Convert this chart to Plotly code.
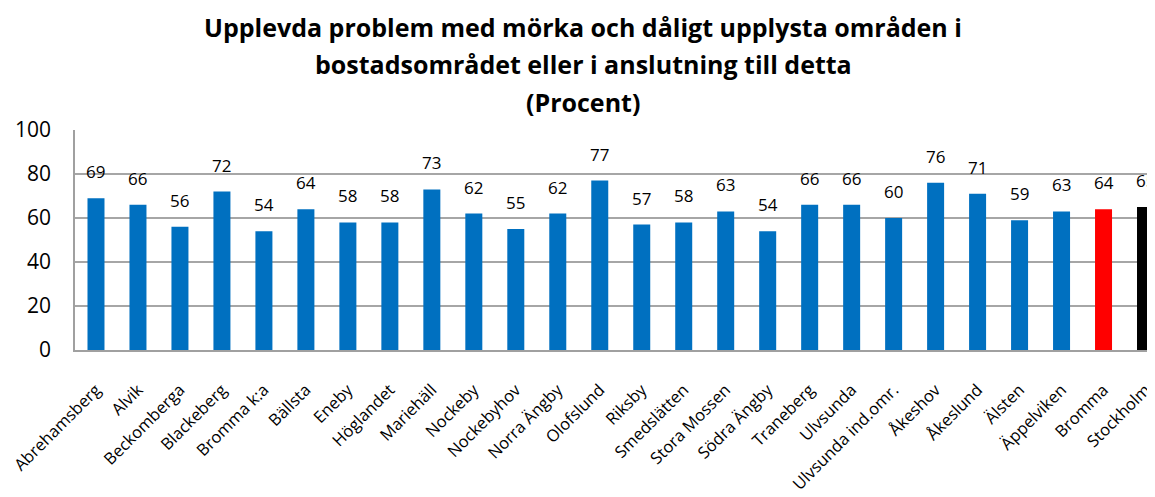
import plotly.graph_objects as go

categories = ["Abrehamsberg", "Alvik", "Beckomberga", "Blackeberg", "Bromma k:a", "Bällsta",
              "Eneby", "Höglandet", "Mariehäll", "Nockeby", "Nockebyhov", "Norra Ängby",
              "Olofslund", "Riksby", "Smedslätten", "Stora Mossen", "Södra Ängby", "Traneberg",
              "Ulvsunda", "Ulvsunda ind.omr.", "Åkeshov", "Åkeslund", "Älsten", "Äppelviken",
              "Bromma", "Stockholm"]
values = [69, 66, 56, 72, 54, 64, 58, 58, 73, 62, 55, 62, 77, 57, 58, 63, 54, 66, 66, 60,
          76, 71, 59, 63, 64, 65]
title_lines = ["Upplevda problem med mörka och dåligt upplysta områden i",
               "bostadsområdet eller i anslutning till detta",
               "(Procent)"]
y_ticks = [0, 20, 40, 60, 80, 100]

colors = ["#0070C0"] * (len(categories) - 2) + ["#FF0000", "#000000"]
FONT = "Open Sans, Lato, sans-serif"

fig = go.Figure()
fig.add_trace(go.Bar(x=categories, y=values, marker=dict(color=colors, line=dict(width=0)),
                     width=0.405, hoverinfo="x+y"))

for c, v in zip(categories, values):
    fig.add_annotation(x=c, y=v, text=str(v), showarrow=False, yanchor="bottom",
                       yshift=13, font=dict(family=FONT, size=17, color="#000000"))

for line, shift in zip(title_lines, [103, 66, 28]):
    fig.add_annotation(x=0.4705, xref="paper", y=1, yref="paper", yanchor="middle",
                       yshift=shift, text="<b>" + line + "</b>", showarrow=False,
                       font=dict(family=FONT, size=25, color="#000000"))

# the page body has an 8px margin, so margins are shifted by 8px
fig.update_layout(
    width=1155, height=497,
    margin=dict(l=67, r=8, t=122, b=155, autoexpand=False),
    paper_bgcolor="white", plot_bgcolor="white",
    showlegend=False,
)
fig.update_xaxes(type="category", range=[-0.5, 25.226], tickangle=-45, automargin=False,
                 tickfont=dict(family=FONT, size=16.5, color="#000000"),
                 showline=True, linecolor="#A0A0A0", linewidth=1.5, ticks="",
                 showgrid=False, ticklabelstandoff=22)
fig.update_yaxes(range=[0, 100], tickvals=y_ticks, automargin=False,
                 tickfont=dict(family=FONT, size=21, color="#000000"),
                 showgrid=True, gridcolor="#A6A6A6", gridwidth=1.5,
                 showline=True, linecolor="#A0A0A0", linewidth=1.5, ticks="", zeroline=False,
                 ticklabelstandoff=18)

fig.write_html("out.html")
